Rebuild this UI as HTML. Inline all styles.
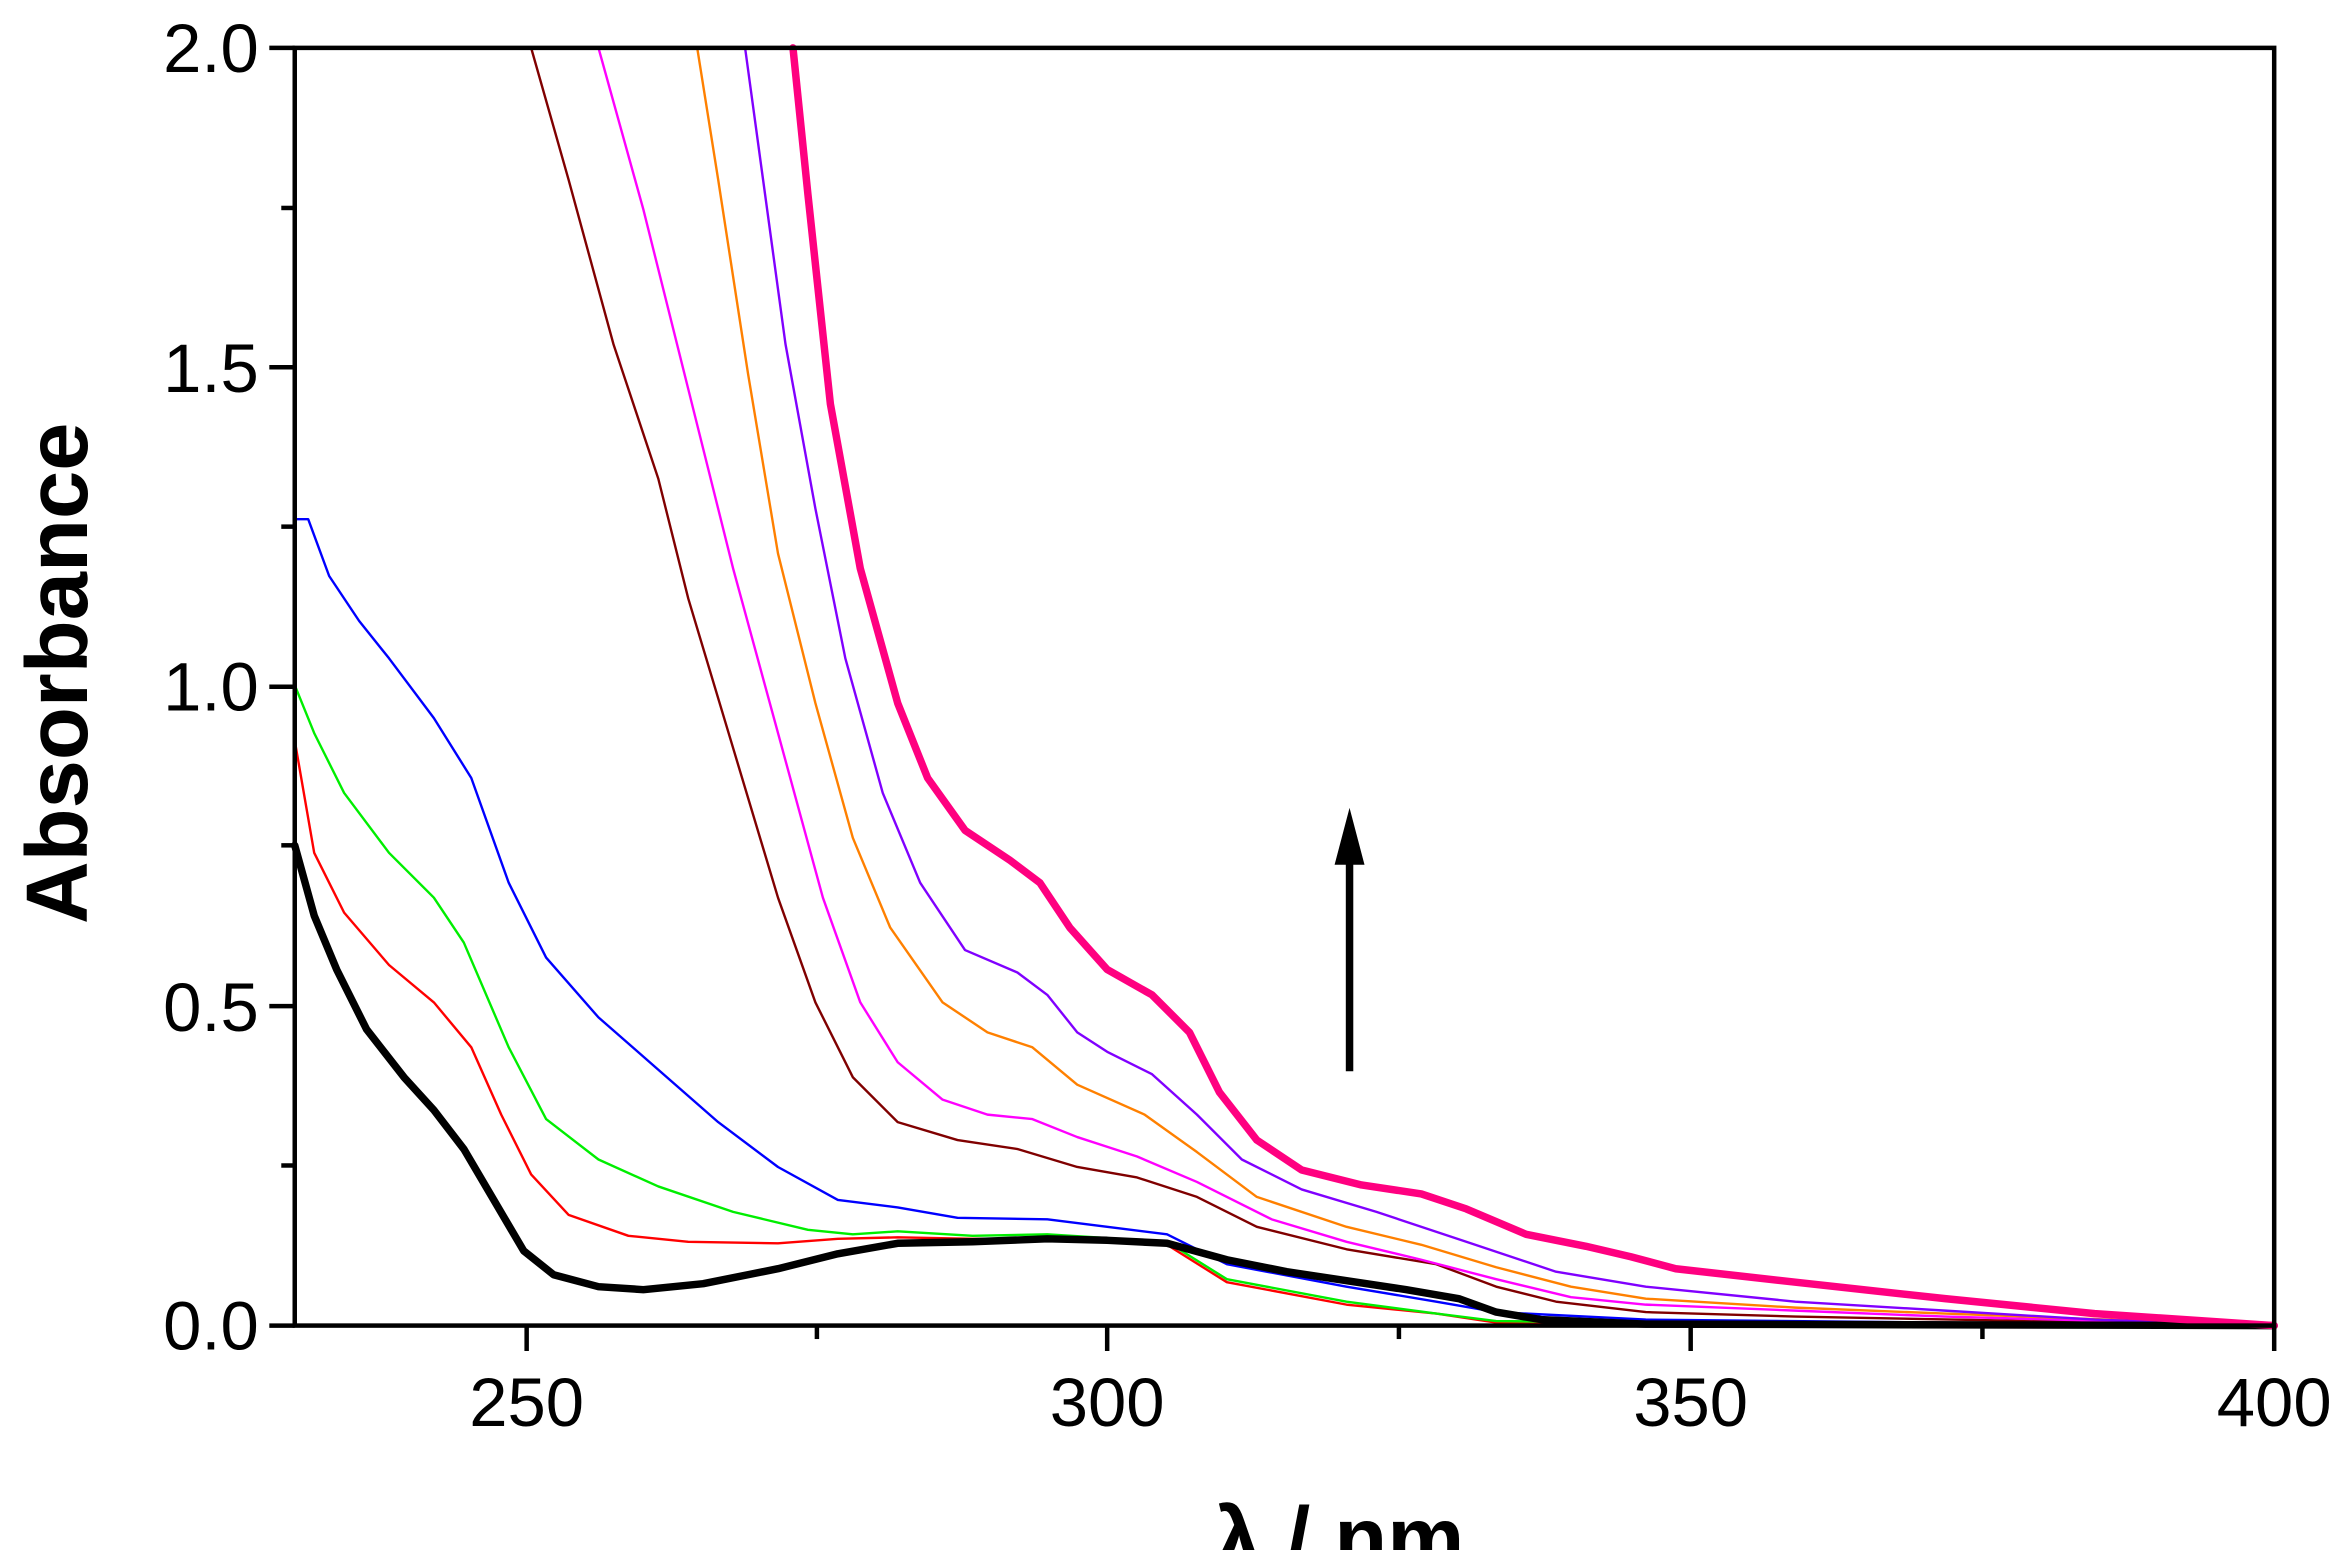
<!DOCTYPE html>
<html><head><meta charset="utf-8"><style>
html,body{margin:0;padding:0;background:#fff;}
svg{display:block;}
</style></head><body>
<svg width="2346" height="1550" viewBox="0 0 1568 1036" preserveAspectRatio="none" xmlns="http://www.w3.org/2000/svg" font-family="Liberation Sans, Arial, sans-serif">
<rect width="1568" height="1036" fill="#fff"/>
<g fill="none" stroke-linejoin="round" stroke-linecap="round">
<polyline stroke="#ff0000" stroke-width="1.6" points="197,495 210,570 230,610 260,645 290,670 315,700 335,745 355,785 380,812 420,826 460,830 520,831 560,828 600,827 650,828 700,828 780,832 820,857 900,872 960,878 1000,884 1520,886"/>
<polyline stroke="#00ee00" stroke-width="1.6" points="197,458 210,490 230,530 260,570 290,600 310,630 340,700 365,748 400,775 440,793 490,810 540,822 570,825 600,823 650,826 700,825 780,830 820,855 900,870 960,878 1000,883 1100,884 1520,886"/>
<polyline stroke="#0000ff" stroke-width="1.6" points="197,347 206,347 220,385 240,415 260,440 290,480 315,520 340,590 365,640 400,680 440,715 480,750 520,780 560,802 600,807 640,814 700,815 740,820 780,825 820,845 900,860 960,870 1000,877 1100,882 1300,884 1520,886"/>
<polyline stroke="#800000" stroke-width="1.6" points="355,32 380,120 410,230 440,320 460,400 490,500 520,600 545,670 570,720 600,750 640,762 680,768 720,780 760,787 800,800 840,820 900,835 960,845 1000,860 1040,870 1100,877 1200,880 1520,886"/>
<polyline stroke="#ff00ff" stroke-width="1.6" points="400,32 430,140 460,260 490,380 520,490 550,600 575,670 600,710 630,735 660,745 690,748 720,760 760,773 800,790 850,815 900,830 950,842 1000,855 1050,867 1100,872 1200,876 1300,880 1520,886"/>
<polyline stroke="#ff8000" stroke-width="1.6" points="466,32 480,120 500,250 520,370 545,470 570,560 595,620 630,670 660,690 690,700 720,725 765,745 800,770 840,800 900,820 950,832 1000,847 1050,860 1100,868 1200,874 1300,878 1520,886"/>
<polyline stroke="#8000ff" stroke-width="1.6" points="498,32 510,120 525,230 545,340 565,440 590,530 615,590 645,635 680,650 700,665 720,690 740,703 770,718 800,745 830,775 870,795 920,810 980,830 1040,850 1100,860 1200,870 1300,876 1400,882 1520,886"/>
<polyline stroke="#000" stroke-width="5" points="197,565 210,612 225,648 245,688 270,720 290,742 310,768 330,802 350,836 370,852 400,860 430,862 470,858 520,848 560,838 600,831 650,830 700,828 740,829 780,831 820,842 860,850 900,856 940,862 975,868 1000,877 1030,882 1100,885 1520,886"/>
<polyline stroke="#ff0080" stroke-width="5" points="530,32 540,130 555,270 575,380 600,470 620,520 645,555 675,575 695,590 715,620 740,648 770,665 795,690 815,730 840,762 870,782 910,792 950,798 980,808 1020,825 1060,833 1090,840 1120,848 1200,857 1300,868 1400,878 1520,886"/>
</g>
<line x1="902" y1="716" x2="902" y2="570" stroke="#000" stroke-width="5"/>
<polygon points="902,540 892,578 912,578" fill="#000"/>
<rect x="197" y="32" width="1323" height="854" fill="none" stroke="#000" stroke-width="3"/>
<g stroke="#000" stroke-width="3">
<line x1="180" y1="886" x2="197" y2="886"/><line x1="180" y1="672.5" x2="197" y2="672.5"/><line x1="180" y1="459" x2="197" y2="459"/><line x1="180" y1="245.5" x2="197" y2="245.5"/><line x1="180" y1="32" x2="197" y2="32"/>
<line x1="188" y1="779" x2="197" y2="779"/><line x1="188" y1="565" x2="197" y2="565"/><line x1="188" y1="352" x2="197" y2="352"/><line x1="188" y1="139" x2="197" y2="139"/>
<line x1="352" y1="886" x2="352" y2="903"/><line x1="740" y1="886" x2="740" y2="903"/><line x1="1130" y1="886" x2="1130" y2="903"/><line x1="1520" y1="886" x2="1520" y2="903"/>
<line x1="546" y1="886" x2="546" y2="895"/><line x1="935" y1="886" x2="935" y2="895"/><line x1="1325" y1="886" x2="1325" y2="895"/>
</g>
<g font-size="46" fill="#000" text-anchor="end">
<text x="173" y="902">0.0</text><text x="173" y="689">0.5</text><text x="173" y="475">1.0</text><text x="173" y="262">1.5</text><text x="173" y="48">2.0</text>
</g>
<g font-size="46" fill="#000" text-anchor="middle">
<text x="352" y="953">250</text><text x="740" y="953">300</text><text x="1130" y="953">350</text><text x="1520" y="953">400</text>
</g>
<text x="895" y="1048" font-size="58" font-weight="bold" text-anchor="middle">λ / nm</text>
<text transform="translate(58,450) rotate(-90)" font-size="58" font-weight="bold" text-anchor="middle">Absorbance</text>
</svg>
</body></html>
